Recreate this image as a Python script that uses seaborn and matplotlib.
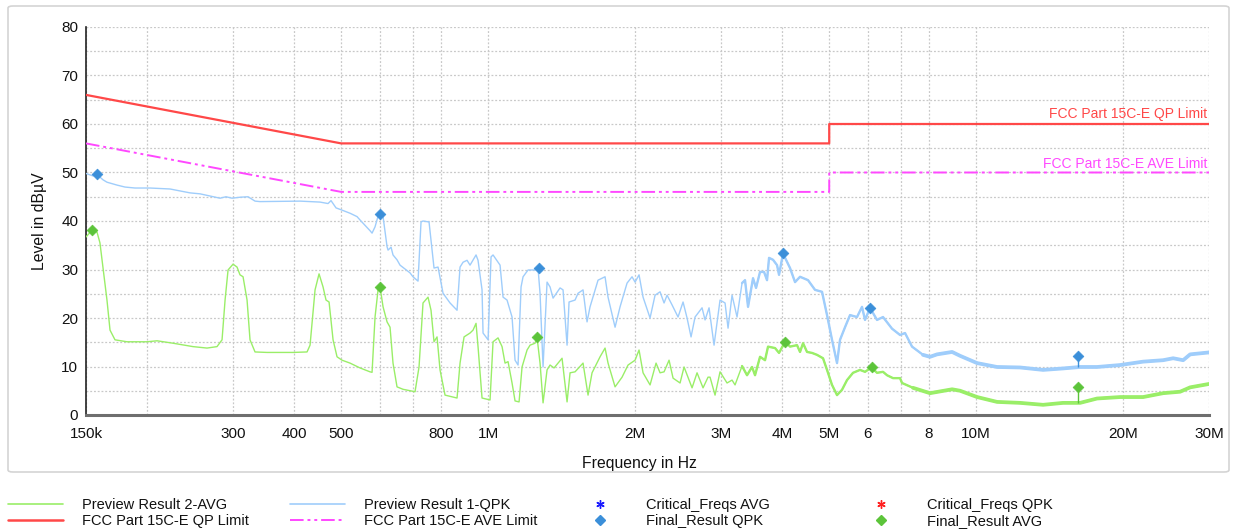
import pandas as pd
import seaborn as sns
import matplotlib.pyplot as plt
import matplotlib.transforms as mtransforms
from matplotlib.lines import Line2D
from matplotlib.patches import FancyBboxPatch
from matplotlib.ticker import FixedLocator, FixedFormatter, MultipleLocator, NullLocator

# --- data (frequency in MHz, level in dBuV) ---
qpk_freq = [0.150, 0.155, 0.158, 0.1625, 0.1656, 0.1737, 0.1803, 0.189, 0.2029, 0.223,
            0.245, 0.2569, 0.2823, 0.2904, 0.2988, 0.3102, 0.3222, 0.333, 0.3409, 0.4118,
            0.4525, 0.4699, 0.4766, 0.488, 0.4973, 0.5213, 0.5389, 0.5466, 0.5729, 0.5784,
            0.5866, 0.595, 0.6006, 0.6092, 0.6208, 0.6237, 0.6326, 0.6385, 0.6507, 0.66,
            0.6919, 0.7017, 0.7185, 0.7287, 0.7356, 0.7568, 0.7748, 0.7896, 0.8085, 0.8356,
            0.8637, 0.876, 0.8885, 0.9054, 0.9183, 0.9447, 0.9536, 0.9718, 0.9764, 1.000,
            1.014, 1.0236, 1.058, 1.0731, 1.0935, 1.1196, 1.1356, 1.1518, 1.1682, 1.1793,
            1.2074, 1.248, 1.2657, 1.2777, 1.296, 1.3207, 1.3395, 1.3586, 1.4042, 1.4242,
            1.4514, 1.4651, 1.5071, 1.5286, 1.5651, 1.5949, 1.6176, 1.6798, 1.7363, 1.761,
            1.8203, 1.8637, 1.9263, 1.9722, 2.0003, 2.0384, 2.0773, 2.1471, 2.1983, 2.2508,
            2.2937, 2.3264, 2.3819, 2.4502, 2.5088, 2.5566, 2.6052, 2.6549, 2.744, 2.7831,
            2.8361, 2.9037, 2.9871, 3.0584, 3.102, 3.1611, 3.2365, 3.3137, 3.3609, 3.4089,
            3.4902, 3.54, 3.6074, 3.6762, 3.7286, 3.7639, 3.8356, 3.9087, 3.9457, 4.0209,
            4.0782, 4.1559, 4.2551, 4.3566, 4.5242, 4.676, 4.833, 4.9483, 5.0664, 5.1872,
            5.2612, 5.3868, 5.5154, 5.7005, 5.8366, 5.9198, 6.0612, 6.2647, 6.4445, 6.7242,
            6.9829, 7.1496, 7.3896, 7.783, 8.0444, 8.3145, 8.9279, 9.2713, 10.046, 11.037,
            12.303, 13.714, 15.071, 16.329, 17.691, 19.722, 21.983, 24.165, 25.332, 26.555,
            27.446, 30.0]
qpk_level = [49.8, 49.3, 49.6, 48.5, 48.0, 47.4, 47.0, 46.8, 46.8, 46.6,
             45.8, 45.6, 44.7, 45.0, 44.7, 44.9, 45.0, 44.1, 44.0, 44.1,
             43.9, 43.6, 44.2, 42.7, 42.4, 41.6, 40.9, 40.2, 38.0, 37.5,
             38.8, 41.0, 41.3, 40.9, 34.7, 34.0, 34.6, 33.0, 32.0, 30.9,
             29.3, 28.5, 27.6, 39.8, 40.0, 39.8, 30.3, 30.5, 25.1, 23.1,
             21.6, 30.5, 31.5, 31.9, 30.9, 33.0, 31.9, 25.8, 16.9, 15.5,
             32.6, 33.0, 30.9, 24.3, 23.7, 20.2, 11.3, 10.3, 26.4, 28.5,
             29.9, 29.9, 30.2, 25.1, 9.9, 27.4, 26.4, 24.1, 26.2, 25.8,
             14.4, 23.3, 23.7, 25.1, 25.8, 19.2, 22.3, 27.8, 28.5, 24.3,
             18.1, 22.3, 27.2, 28.5, 27.4, 28.9, 24.3, 20.0, 24.7, 25.4,
             23.1, 24.7, 22.7, 20.2, 23.3, 20.0, 16.1, 20.2, 22.1, 19.6,
             22.1, 14.4, 23.7, 23.1, 17.9, 24.7, 20.2, 27.2, 27.8, 22.3,
             28.2, 26.2, 29.5, 29.5, 27.8, 32.4, 32.0, 30.9, 28.9, 33.3,
             32.0, 30.3, 27.4, 28.5, 27.8, 25.8, 25.4, 20.6, 15.5, 10.7,
             15.5, 18.1, 20.6, 20.2, 22.3, 19.6, 22.1, 19.6, 20.2, 17.8,
             16.5, 16.9, 14.1, 12.4, 12.0, 12.5, 13.0, 12.2, 10.7, 9.9,
             9.8, 9.3, 9.6, 9.9, 9.9, 10.3, 11.0, 11.3, 11.7, 11.3,
             12.5, 12.9]

avg_freq = [0.150, 0.1543, 0.158, 0.1602, 0.1625, 0.1656, 0.168, 0.172, 0.182, 0.200,
            0.2097, 0.2262, 0.2485, 0.2655, 0.2783, 0.285, 0.2891, 0.2932, 0.3002, 0.3059,
            0.3102, 0.3147, 0.3207, 0.3252, 0.333, 0.3524, 0.3984, 0.4256, 0.4317, 0.442,
            0.4504, 0.459, 0.4655, 0.4722, 0.4812, 0.4903, 0.502, 0.5213, 0.5466, 0.5729,
            0.5784, 0.5866, 0.595, 0.6006, 0.6092, 0.6208, 0.6296, 0.6385, 0.6507, 0.6694,
            0.7084, 0.7219, 0.7356, 0.7532, 0.7639, 0.7748, 0.7859, 0.7971, 0.8161, 0.8637,
            0.876, 0.8927, 0.9183, 0.9314, 0.9447, 0.9536, 0.9718, 1.0092, 1.0236, 1.048,
            1.068, 1.0832, 1.0987, 1.1196, 1.1356, 1.1573, 1.1737, 1.2018, 1.2189, 1.248,
            1.2598, 1.2777, 1.296, 1.3207, 1.3395, 1.365, 1.4175, 1.4514, 1.4721, 1.5071,
            1.5651, 1.6024, 1.633, 1.6958, 1.7363, 1.761, 1.8203, 1.8814, 1.9354, 2.0003,
            2.0384, 2.0773, 2.1471, 2.2087, 2.2508, 2.2937, 2.3484, 2.3932, 2.4735, 2.5207,
            2.6176, 2.68, 2.7569, 2.8227, 2.8495, 2.9175, 2.9871, 3.0874, 3.1611, 3.2061,
            3.3137, 3.3928, 3.4738, 3.5233, 3.6074, 3.6935, 3.7462, 3.872, 3.9457, 4.059,
            4.1559, 4.2954, 4.3566, 4.4187, 4.5029, 4.6103, 4.7203, 4.8558, 4.9483, 5.0664,
            5.1872, 5.3111, 5.4379, 5.594, 5.7818, 5.9198, 6.100, 6.2647, 6.4445, 6.5673,
            6.7560, 6.9829, 7.0491, 7.4246, 8.0444, 8.9279, 9.2713, 10.046, 11.037, 12.303,
            13.714, 15.071, 16.329, 17.691, 19.722, 21.983, 24.165, 26.181, 27.446, 30.0]
avg_level = [36.7, 38.1, 37.7, 35.5, 30.5, 23.7, 17.5, 15.5, 15.1, 15.1,
             15.3, 14.8, 14.1, 13.8, 14.1, 15.5, 23.7, 29.9, 31.1, 30.5,
             28.9, 28.5, 23.7, 15.5, 13.0, 12.9, 12.9, 13.0, 14.4, 25.8,
             29.1, 26.4, 23.7, 23.3, 15.5, 12.0, 11.3, 10.7, 9.7, 8.9,
             8.8, 20.2, 25.8, 26.4, 22.3, 19.2, 18.1, 10.7, 5.8, 5.3,
             4.8, 9.9, 23.1, 24.3, 21.6, 15.1, 16.1, 9.3, 4.1, 3.5,
             10.7, 16.1, 16.9, 17.5, 18.9, 14.1, 3.5, 3.1, 15.1, 15.9,
             14.1, 10.7, 11.0, 6.6, 2.9, 2.7, 9.9, 13.4, 14.4, 14.8,
             16.0, 10.7, 2.5, 9.3, 10.3, 9.7, 11.7, 2.7, 8.7, 8.9,
             10.7, 4.1, 8.7, 12.0, 13.8, 10.7, 5.8, 7.8, 10.3, 11.3,
             13.4, 8.7, 6.2, 10.7, 8.7, 8.9, 11.3, 7.6, 6.6, 9.9,
             5.6, 8.7, 5.6, 7.8, 7.8, 4.1, 8.9, 6.6, 7.2, 6.2,
             10.1, 8.2, 9.9, 8.2, 12.0, 11.3, 14.1, 13.8, 12.8, 15.1,
             14.1, 14.4, 13.0, 14.8, 13.0, 12.8, 12.4, 11.7, 9.3, 6.2,
             4.1, 5.2, 7.2, 8.7, 9.3, 8.9, 9.8, 8.7, 8.9, 8.2,
             7.6, 7.6, 6.6, 5.6, 4.5, 5.3, 5.0, 3.7, 2.7, 2.5,
             2.1, 2.5, 2.5, 3.4, 3.7, 3.7, 4.5, 4.8, 5.7, 6.4]

# FCC Part 15C class B conducted limits
qp_limit_freq = [0.15, 0.5, 5.0, 5.0, 30.0]
qp_limit_level = [66, 56, 56, 60, 60]
ave_limit_freq = [0.15, 0.5, 5.0, 5.0, 30.0]
ave_limit_level = [56, 46, 46, 50, 50]

# final measurements
final_qpk_freq = [0.158, 0.600, 1.270, 4.02, 6.06, 16.2]
final_qpk_level = [49.6, 41.4, 30.3, 33.3, 22.0, 12.2]
final_qpk_base = [49.4, 41.0, 29.9, 32.6, 21.2, 9.9]
final_avg_freq = [0.154, 0.600, 1.262, 4.06, 6.12, 16.2]
final_avg_level = [38.1, 26.3, 16.0, 15.1, 9.9, 5.8]
final_avg_base = [38.0, 26.2, 15.4, 14.6, 9.3, 2.5]

x_ticks = [0.15, 0.2, 0.3, 0.4, 0.5, 0.6, 0.7, 0.8, 1, 2, 3, 4, 5, 6, 7, 8, 10, 20, 30]
x_tick_labels = ["150k", "", "300", "400", "500", "", "", "800", "1M", "2M", "3M", "4M",
                 "5M", "6", "", "8", "10M", "20M", "30M"]

C_QPK = "#9fcdfb"
C_AVG = "#9aee68"
C_QP_LIM = "#ff4848"
C_AVE_LIM = "#ff48ff"
C_MK_QPK = "#3b8fd9"
C_MK_AVG = "#5cc43a"
DASH = (0, (7, 2, 1.5, 2, 1.5, 2))

sns.set_style("white")
plt.rcParams['font.family'] = ['Liberation Sans', 'DejaVu Sans']

W, H = 1236, 532
fig = plt.figure(figsize=(W / 100, H / 100), dpi=100)
ax = fig.add_axes([86 / W, 1 - 415 / H, (1209 - 86) / W, (415 - 27) / H])

qpk = pd.DataFrame({"freq": [f * 1e6 for f in qpk_freq], "level": qpk_level})
avg = pd.DataFrame({"freq": [f * 1e6 for f in avg_freq], "level": avg_level})

# the scan gets denser (thicker trace) at higher frequencies
for df, col in [(avg, C_AVG), (qpk, C_QPK)]:
    sns.lineplot(data=df, x="freq", y="level", ax=ax, color=col, lw=1.0,
                 sort=False, estimator=None, zorder=3)
    sns.lineplot(data=df[df.freq >= 3.3e6], x="freq", y="level", ax=ax, color=col,
                 lw=1.7, sort=False, estimator=None, zorder=3)
    sns.lineplot(data=df[df.freq >= 7.4e6], x="freq", y="level", ax=ax, color=col,
                 lw=2.7, sort=False, estimator=None, zorder=3)

sns.lineplot(x=[f * 1e6 for f in qp_limit_freq], y=qp_limit_level, ax=ax,
             color=C_QP_LIM, lw=1.6, sort=False, estimator=None, zorder=4)
sns.lineplot(x=[f * 1e6 for f in ave_limit_freq], y=ave_limit_level, ax=ax,
             color=C_AVE_LIM, lw=1.4, linestyle=DASH, sort=False, estimator=None, zorder=4)

# stems + diamonds for final results
for fr, lv, base, col in [(final_qpk_freq, final_qpk_level, final_qpk_base, C_MK_QPK),
                          (final_avg_freq, final_avg_level, final_avg_base, C_MK_AVG)]:
    ax.vlines([f * 1e6 for f in fr], base, lv, color=col, lw=1, zorder=5)
    sns.scatterplot(x=[f * 1e6 for f in fr], y=lv, ax=ax, marker="D", s=30,
                    color=col, edgecolor=col, linewidth=0.5, zorder=6)

ax.set_xscale("log")
ax.set_xlim(150e3, 30e6)
ax.set_ylim(0, 80)

ax.xaxis.set_major_locator(FixedLocator([t * 1e6 for t in x_ticks]))
ax.xaxis.set_major_formatter(FixedFormatter(x_tick_labels))
ax.xaxis.set_minor_locator(NullLocator())
ax.yaxis.set_major_locator(MultipleLocator(10))
ax.yaxis.set_minor_locator(MultipleLocator(5))

ax.grid(True, axis="x", which="major", color="#c8c8c8", linestyle=(0, (1.5, 1.5)), lw=0.9)
ax.grid(True, axis="y", which="both", color="#c8c8c8", linestyle=(0, (1.5, 1.5)), lw=0.9)
ax.set_axisbelow(True)

for s in ["top", "right"]:
    ax.spines[s].set_visible(False)
ax.spines["left"].set_color("#222222")
ax.spines["left"].set_linewidth(1.2)
ax.spines["bottom"].set_color("#6e6e6e")
ax.spines["bottom"].set_linewidth(2.2)

ax.tick_params(axis="both", which="both", direction="inout", color="#222222",
               labelsize=11, labelcolor="#111111")
ax.tick_params(axis="y", which="both", length=6, width=1.1, pad=2.5)
ax.tick_params(axis="x", which="major", length=6, width=1.1, pad=6)

ax.set_xlabel("Frequency in Hz", fontsize=11.3, color="#111111")
ax.set_ylabel("Level in dBµV", fontsize=11.3, color="#111111")
ax.xaxis.set_label_coords(0.493, -0.106)
ax.yaxis.set_label_coords(-0.035, 0.5)

blend = mtransforms.blended_transform_factory(ax.transAxes, ax.transData)
ax.text(0.9985, 60.6, "FCC Part 15C-E QP Limit", transform=blend, ha="right",
        va="bottom", color=C_QP_LIM, fontsize=10)
ax.text(0.9985, 50.35, "FCC Part 15C-E AVE Limit", transform=blend, ha="right",
        va="bottom", color=C_AVE_LIM, fontsize=10)

# outer rounded frame
fig.add_artist(FancyBboxPatch((8 / W, 1 - 472 / H), (1229 - 8) / W, (472 - 6) / H,
                              boxstyle="round,pad=0,rounding_size=0.004",
                              transform=fig.transFigure, fc="none", ec="#d4d4d4", lw=1.2))

# legend in four fixed columns
star = (6, 2, 0)
columns = [
    (8, [Line2D([], [], color=C_AVG, lw=1.2), Line2D([], [], color=C_QP_LIM, lw=1.8)],
     ["Preview Result 2-AVG", "FCC Part 15C-E QP Limit"]),
    (290, [Line2D([], [], color=C_QPK, lw=1.2),
           Line2D([], [], color=C_AVE_LIM, lw=1.4, linestyle=DASH)],
     ["Preview Result 1-QPK", "FCC Part 15C-E AVE Limit"]),
    (572, [Line2D([], [], color="#1a1aff", lw=0, marker=star, ms=6, mew=1),
           Line2D([], [], color=C_MK_QPK, lw=0, marker="D", ms=5.5)],
     ["Critical_Freqs AVG", "Final_Result QPK"]),
    (853, [Line2D([], [], color="#ff2020", lw=0, marker=star, ms=6, mew=1),
           Line2D([], [], color=C_MK_AVG, lw=0, marker="D", ms=5.5)],
     ["Critical_Freqs QPK", "Final_Result AVG"]),
]
for x0, handles, labels in columns:
    fig.legend(handles, labels, loc="upper left", bbox_to_anchor=(x0 / W, 1 - 498 / H),
               frameon=False, fontsize=10.5, handlelength=3.8, handletextpad=1.3,
               borderpad=0, borderaxespad=0, labelspacing=0.16, labelcolor="#111111")

fig.savefig("out.png", dpi=100, facecolor="white")
